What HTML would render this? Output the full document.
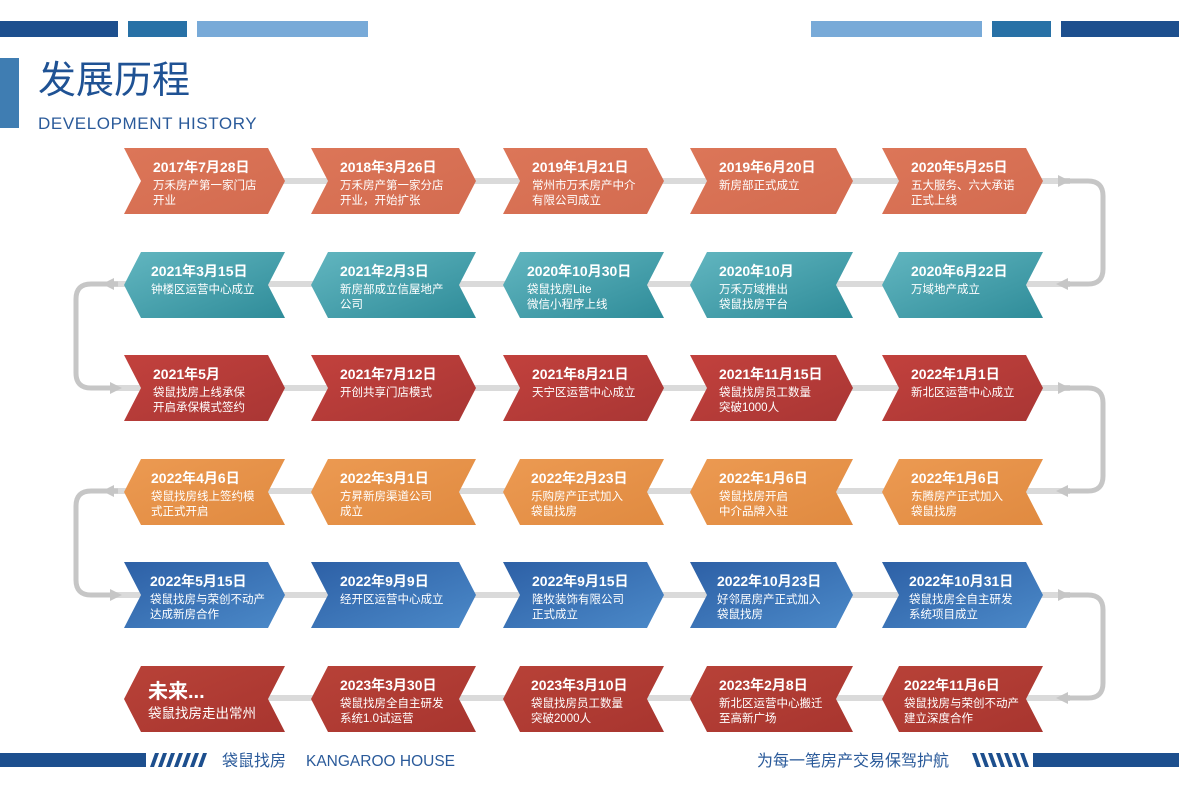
<!DOCTYPE html>
<html><head><meta charset="utf-8"><style>
html,body{margin:0;padding:0;background:#fff;}
svg{display:block;}
text{font-family:"Liberation Sans","Noto Sans CJK SC",sans-serif;fill:#fff;}
.d{font-size:14px;font-weight:bold;}
.s{font-size:11.5px;}
</style></head><body>
<svg width="1179" height="800" viewBox="0 0 1179 800" xmlns="http://www.w3.org/2000/svg">
<defs>
<linearGradient id="g1" x1="0" y1="0" x2="1" y2="1"><stop offset="0" stop-color="#dc7658"/><stop offset="1" stop-color="#d36b50"/></linearGradient>
<linearGradient id="g2" x1="0" y1="0" x2="1" y2="1"><stop offset="0" stop-color="#62b6c0"/><stop offset="1" stop-color="#2f8c99"/></linearGradient>
<linearGradient id="g3" x1="0" y1="0" x2="1" y2="1"><stop offset="0" stop-color="#c2413d"/><stop offset="1" stop-color="#a93634"/></linearGradient>
<linearGradient id="g4" x1="0" y1="0" x2="1" y2="1"><stop offset="0" stop-color="#ec9a52"/><stop offset="1" stop-color="#e08a40"/></linearGradient>
<linearGradient id="g5" x1="0" y1="0" x2="1" y2="1"><stop offset="0" stop-color="#2d60a6"/><stop offset="1" stop-color="#4b89c8"/></linearGradient>
<linearGradient id="g6" x1="0" y1="0" x2="1" y2="1"><stop offset="0" stop-color="#b84238"/><stop offset="1" stop-color="#a8352f"/></linearGradient>
</defs>
<rect x="0" y="21" width="118" height="16" fill="#1d4f8e"/>
<rect x="128" y="21" width="59" height="16" fill="#2871a6"/>
<rect x="197" y="21" width="171" height="16" fill="#78aad8"/>
<rect x="811" y="21" width="171" height="16" fill="#78aad8"/>
<rect x="992" y="21" width="59" height="16" fill="#2871a6"/>
<rect x="1061" y="21" width="118" height="16" fill="#1d4f8e"/>
<rect x="0" y="58" width="19" height="70" fill="#3f7db2"/>
<text x="38" y="93" style="font-size:38px;fill:#1f5294">发展历程</text>
<text x="38" y="129" style="font-size:17px;fill:#2a5a9a;letter-spacing:0.6px">DEVELOPMENT HISTORY</text>

<g stroke="#dadada" stroke-width="6" fill="none">
<line x1="200" y1="181" x2="1070" y2="181"/>
<line x1="110" y1="284" x2="1070" y2="284"/>
<line x1="110" y1="388" x2="1070" y2="388"/>
<line x1="110" y1="491" x2="1070" y2="491"/>
<line x1="110" y1="595" x2="1070" y2="595"/>
<line x1="200" y1="698" x2="1070" y2="698"/>
</g>
<g stroke="#c6c6c6" stroke-width="5" fill="none">
<path d="M1060 181 H1088 Q1103 181 1103 196 V269 Q1103 284 1088 284 H1062"/>
<path d="M1060 388 H1088 Q1103 388 1103 403 V476 Q1103 491 1088 491 H1062"/>
<path d="M1060 595 H1088 Q1103 595 1103 610 V683 Q1103 698 1088 698 H1062"/>
<path d="M118 284 H91 Q76 284 76 299 V373 Q76 388 91 388 H112"/>
<path d="M118 491 H91 Q76 491 76 506 V580 Q76 595 91 595 H112"/>
</g>
<g fill="#c6c6c6">
<polygon points="1058,175 1070,181 1058,187"/>
<polygon points="1068,278 1056,284 1068,290"/>
<polygon points="1058,382 1070,388 1058,394"/>
<polygon points="1068,485 1056,491 1068,497"/>
<polygon points="1058,589 1070,595 1058,601"/>
<polygon points="1068,692 1056,698 1068,704"/>
<polygon points="114,278 102,284 114,290"/>
<polygon points="110,382 122,388 110,394"/>
<polygon points="114,485 102,491 114,497"/>
<polygon points="110,589 122,595 110,601"/>
</g>

<g fill="url(#g1)">
<polygon points="124,148 268,148 285,181 268,214 124,214 141,181"/>
<polygon points="311,148 459,148 476,181 459,214 311,214 328,181"/>
<polygon points="503,148 647,148 664,181 647,214 503,214 520,181"/>
<polygon points="690,148 836,148 853,181 836,214 690,214 707,181"/>
<polygon points="882,148 1026,148 1043,181 1026,214 882,214 899,181"/>
</g>
<g fill="url(#g2)">
<polygon points="141,252 285,252 268,285 285,318 141,318 124,285"/>
<polygon points="328,252 476,252 459,285 476,318 328,318 311,285"/>
<polygon points="520,252 664,252 647,285 664,318 520,318 503,285"/>
<polygon points="707,252 853,252 836,285 853,318 707,318 690,285"/>
<polygon points="899,252 1043,252 1026,285 1043,318 899,318 882,285"/>
</g>
<g fill="url(#g3)">
<polygon points="124,355 268,355 285,388 268,421 124,421 141,388"/>
<polygon points="311,355 459,355 476,388 459,421 311,421 328,388"/>
<polygon points="503,355 647,355 664,388 647,421 503,421 520,388"/>
<polygon points="690,355 836,355 853,388 836,421 690,421 707,388"/>
<polygon points="882,355 1026,355 1043,388 1026,421 882,421 899,388"/>
</g>
<g fill="url(#g4)">
<polygon points="141,459 285,459 268,492 285,525 141,525 124,492"/>
<polygon points="328,459 476,459 459,492 476,525 328,525 311,492"/>
<polygon points="520,459 664,459 647,492 664,525 520,525 503,492"/>
<polygon points="707,459 853,459 836,492 853,525 707,525 690,492"/>
<polygon points="899,459 1043,459 1026,492 1043,525 899,525 882,492"/>
</g>
<g fill="url(#g5)">
<polygon points="124,562 268,562 285,595 268,628 124,628 141,595"/>
<polygon points="311,562 459,562 476,595 459,628 311,628 328,595"/>
<polygon points="503,562 647,562 664,595 647,628 503,628 520,595"/>
<polygon points="690,562 836,562 853,595 836,628 690,628 707,595"/>
<polygon points="882,562 1026,562 1043,595 1026,628 882,628 899,595"/>
</g>
<g fill="url(#g6)">
<polygon points="141,666 285,666 268,699 285,732 141,732 124,699"/>
<polygon points="328,666 476,666 459,699 476,732 328,732 311,699"/>
<polygon points="520,666 664,666 647,699 664,732 520,732 503,699"/>
<polygon points="707,666 853,666 836,699 853,732 707,732 690,699"/>
<polygon points="899,666 1043,666 1026,699 1043,732 899,732 882,699"/>
</g>

<g>
<text class="d" x="153" y="172">2017年7月28日</text><text class="s" x="153" y="189">万禾房产第一家门店</text><text class="s" x="153" y="204">开业</text>
<text class="d" x="340" y="172">2018年3月26日</text><text class="s" x="340" y="189">万禾房产第一家分店</text><text class="s" x="340" y="204">开业，开始扩张</text>
<text class="d" x="532" y="172">2019年1月21日</text><text class="s" x="532" y="189">常州市万禾房产中介</text><text class="s" x="532" y="204">有限公司成立</text>
<text class="d" x="719" y="172">2019年6月20日</text><text class="s" x="719" y="189">新房部正式成立</text>
<text class="d" x="911" y="172">2020年5月25日</text><text class="s" x="911" y="189">五大服务、六大承诺</text><text class="s" x="911" y="204">正式上线</text>

<text class="d" x="151" y="276">2021年3月15日</text><text class="s" x="151" y="293">钟楼区运营中心成立</text>
<text class="d" x="340" y="276">2021年2月3日</text><text class="s" x="340" y="293">新房部成立信屋地产</text><text class="s" x="340" y="308">公司</text>
<text class="d" x="527" y="276">2020年10月30日</text><text class="s" x="527" y="293">袋鼠找房Lite</text><text class="s" x="527" y="308">微信小程序上线</text>
<text class="d" x="719" y="276">2020年10月</text><text class="s" x="719" y="293">万禾万域推出</text><text class="s" x="719" y="308">袋鼠找房平台</text>
<text class="d" x="911" y="276">2020年6月22日</text><text class="s" x="911" y="293">万域地产成立</text>

<text class="d" x="153" y="379">2021年5月</text><text class="s" x="153" y="396">袋鼠找房上线承保</text><text class="s" x="153" y="411">开启承保模式签约</text>
<text class="d" x="340" y="379">2021年7月12日</text><text class="s" x="340" y="396">开创共享门店模式</text>
<text class="d" x="532" y="379">2021年8月21日</text><text class="s" x="532" y="396">天宁区运营中心成立</text>
<text class="d" x="719" y="379">2021年11月15日</text><text class="s" x="719" y="396">袋鼠找房员工数量</text><text class="s" x="719" y="411">突破1000人</text>
<text class="d" x="911" y="379">2022年1月1日</text><text class="s" x="911" y="396">新北区运营中心成立</text>

<text class="d" x="151" y="483">2022年4月6日</text><text class="s" x="151" y="500">袋鼠找房线上签约模</text><text class="s" x="151" y="515">式正式开启</text>
<text class="d" x="340" y="483">2022年3月1日</text><text class="s" x="340" y="500">方昇新房渠道公司</text><text class="s" x="340" y="515">成立</text>
<text class="d" x="531" y="483">2022年2月23日</text><text class="s" x="531" y="500">乐购房产正式加入</text><text class="s" x="531" y="515">袋鼠找房</text>
<text class="d" x="719" y="483">2022年1月6日</text><text class="s" x="719" y="500">袋鼠找房开启</text><text class="s" x="719" y="515">中介品牌入驻</text>
<text class="d" x="911" y="483">2022年1月6日</text><text class="s" x="911" y="500">东腾房产正式加入</text><text class="s" x="911" y="515">袋鼠找房</text>

<text class="d" x="150" y="586">2022年5月15日</text><text class="s" x="150" y="603">袋鼠找房与荣创不动产</text><text class="s" x="150" y="618">达成新房合作</text>
<text class="d" x="340" y="586">2022年9月9日</text><text class="s" x="340" y="603">经开区运营中心成立</text>
<text class="d" x="532" y="586">2022年9月15日</text><text class="s" x="532" y="603">隆牧装饰有限公司</text><text class="s" x="532" y="618">正式成立</text>
<text class="d" x="717" y="586">2022年10月23日</text><text class="s" x="717" y="603">好邻居房产正式加入</text><text class="s" x="717" y="618">袋鼠找房</text>
<text class="d" x="909" y="586">2022年10月31日</text><text class="s" x="909" y="603">袋鼠找房全自主研发</text><text class="s" x="909" y="618">系统项目成立</text>

<text x="148" y="698" style="font-size:20px;font-weight:bold">未来...</text><text x="148" y="718" style="font-size:13.5px">袋鼠找房走出常州</text>
<text class="d" x="340" y="690">2023年3月30日</text><text class="s" x="340" y="707">袋鼠找房全自主研发</text><text class="s" x="340" y="722">系统1.0试运营</text>
<text class="d" x="531" y="690">2023年3月10日</text><text class="s" x="531" y="707">袋鼠找房员工数量</text><text class="s" x="531" y="722">突破2000人</text>
<text class="d" x="719" y="690">2023年2月8日</text><text class="s" x="719" y="707">新北区运营中心搬迁</text><text class="s" x="719" y="722">至高新广场</text>
<text class="d" x="904" y="690">2022年11月6日</text><text class="s" x="904" y="707">袋鼠找房与荣创不动产</text><text class="s" x="904" y="722">建立深度合作</text>
</g>

<rect x="0" y="753" width="146" height="14" fill="#1d4f8e"/>
<g fill="#1d4f8e">
<polygon points="150,767 155,753 159,753 154,767"/>
<polygon points="158,767 163,753 167,753 162,767"/>
<polygon points="166,767 171,753 175,753 170,767"/>
<polygon points="174,767 179,753 183,753 178,767"/>
<polygon points="182,767 187,753 191,753 186,767"/>
<polygon points="190,767 195,753 199,753 194,767"/>
<polygon points="198,767 203,753 207,753 202,767"/>
</g>
<text x="222" y="766" style="font-size:16px;fill:#2a5a9a">袋鼠找房</text>
<text x="306" y="766" style="font-size:15.5px;fill:#2a5a9a">KANGAROO HOUSE</text>
<text x="757" y="766" style="font-size:16px;fill:#2a5a9a">为每一笔房产交易保驾护航</text>
<g fill="#1d4f8e">
<polygon points="972,753 976,753 981,767 977,767"/>
<polygon points="980,753 984,753 989,767 985,767"/>
<polygon points="988,753 992,753 997,767 993,767"/>
<polygon points="996,753 1000,753 1005,767 1001,767"/>
<polygon points="1004,753 1008,753 1013,767 1009,767"/>
<polygon points="1012,753 1016,753 1021,767 1017,767"/>
<polygon points="1020,753 1024,753 1029,767 1025,767"/>
</g>
<rect x="1033" y="753" width="146" height="14" fill="#1d4f8e"/>
</svg>
</body></html>
